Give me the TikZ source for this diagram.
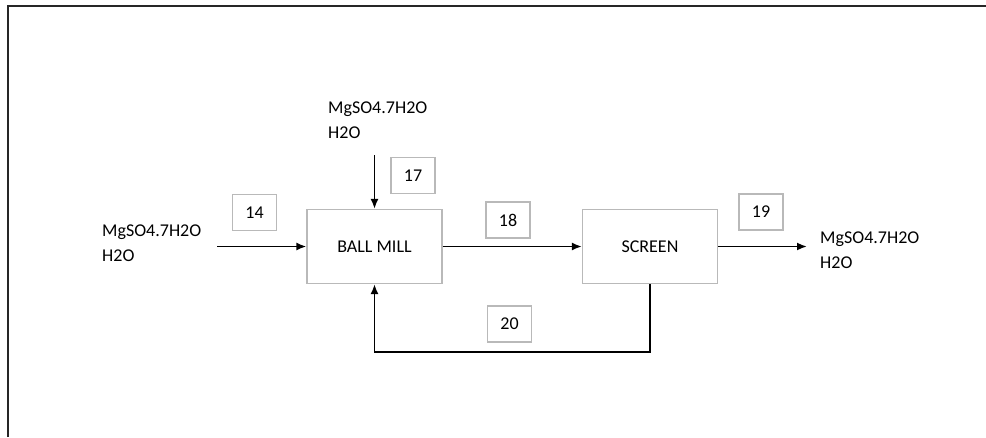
\documentclass[tikz,border=0pt]{standalone}
\usepackage{fontspec}
\setmainfont{Carlito}
\usetikzlibrary{arrows.meta, positioning, calc}
\definecolor{boxgray}{RGB}{185,185,185}

\begin{document}
\begin{tikzpicture}[
    x=1pt, y=-1pt, >={Latex[length=10pt, width=8pt]},
    % --- STYLES ---
    unit/.style={rectangle, draw=boxgray, line width=1.2pt, minimum width=135pt, minimum height=74pt, font=\fontsize{18}{22}\selectfont},
    tag/.style={rectangle, draw=boxgray, line width=1.2pt, minimum width=44pt, minimum height=36pt, inner sep=0pt, font=\fontsize{18}{22}\selectfont},
    feed/.style={anchor=west, align=left, inner sep=0pt, font=\fontsize{18}{25}\selectfont},
    stream/.style={->, line width=1.8pt},
    frame_line/.style={line width=2pt, black!85}
]
\useasboundingbox (0,0) rectangle (986,437);

% --- FRAME ---
\draw[frame_line] (8,437) -- (8,6) -- (986,6);

% --- 1. UNITS ---
\node[unit] (ballmill) at (374.5,246.5) {BALL MILL};
\node[unit] (screen) at (650,246.5) {SCREEN};

% --- 2. STREAM TEXTS ---
\node[feed] (feedL) at (102,243) {MgSO4.7H2O\\H2O};
\node[feed] (feedT) at (328,120) {MgSO4.7H2O\\H2O};
\node[feed] (prodR) at (820,250) {MgSO4.7H2O\\H2O};

% --- 3. STREAM NUMBERS ---
\node[tag] (s14) at (254.5,212.5) {14};
\node[tag] (s17) at (413,175.5) {17};
\node[tag] (s18) at (508,220) {18};
\node[tag] (s19) at (761,212) {19};
\node[tag] (s20) at (509.5,324) {20};

% --- 4. STREAMS ---
\coordinate (inL) at (217,246.5);
\coordinate (inT) at (374.5,155);
\coordinate (outR) at (807,246.5);
\coordinate (recy) at (0,352);

\draw[stream] (inL) -- (ballmill.west);
\draw[stream] (inT) -- (ballmill.north);
\draw[stream] (ballmill.east) -- (screen.west);
\draw[stream] (screen.east) -- (outR);
\draw[stream] (screen.south) -- (screen.south |- recy) -| (ballmill.south);

\end{tikzpicture}
\end{document}
